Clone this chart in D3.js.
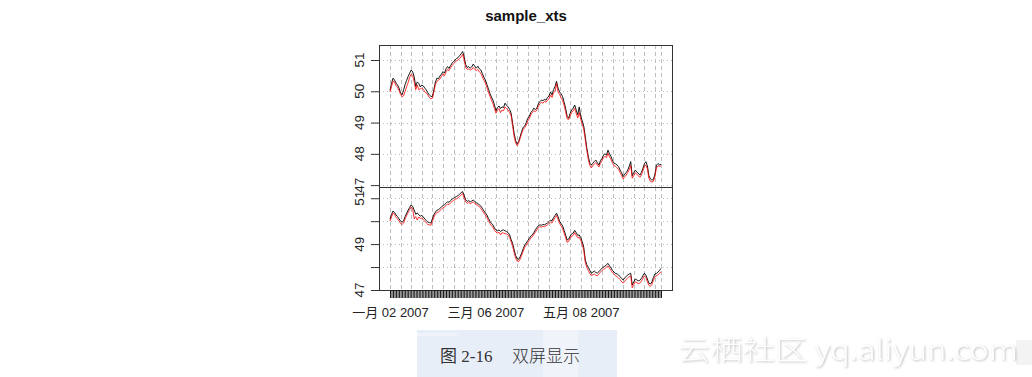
<!DOCTYPE html>
<html>
<head>
<meta charset="utf-8">
<script src="https://cdn.jsdelivr.net/npm/d3@7"></script>
<style>
body { margin: 0; background: #fff; }
svg { display: block; }
text { font-family: "Liberation Sans", Arial, "Noto Sans CJK SC", sans-serif; }
</style>
</head>
<body>
<svg id="chart" width="1032" height="377"></svg>
<script>
// sample_xts, 2007-01-02 .. 2007-06-30, one value per day
var startDay = new Date(2007, 0, 2);

var topBlack = [50.03, 50.25, 50.42, 50.36, 50.26, 50.20, 50.10, 49.95, 49.89, 50.05,
	50.22, 50.35, 50.48, 50.58, 50.68, 50.62, 50.45, 50.15, 50.30, 50.25,
	50.14, 50.20, 50.17, 50.10, 50.04, 49.95, 49.88, 49.84, 49.83, 50.05,
	50.30, 50.42, 50.40, 50.49, 50.55, 50.63, 50.58, 50.72, 50.79, 50.73,
	50.82, 50.90, 50.95, 51.00, 51.05, 51.08, 51.14, 51.20, 51.27, 51.10,
	50.85, 50.76, 50.79, 50.74, 50.78, 50.87, 50.80, 50.74, 50.80, 50.72,
	50.68, 50.57, 50.45, 50.36, 50.22, 50.08, 49.93, 49.82, 49.72, 49.56,
	49.38, 49.48, 49.53, 49.45, 49.50, 49.48, 49.62, 49.55, 49.50, 49.42,
	49.30, 48.98, 48.65, 48.42, 48.32, 48.40, 48.55, 48.72, 48.85, 48.89,
	49.00, 49.14, 49.20, 49.32, 49.38, 49.46, 49.42, 49.46, 49.60, 49.67,
	49.72, 49.70, 49.74, 49.72, 49.80, 49.85, 49.98, 49.88, 50.05, 50.15,
	50.32, 50.10, 49.98, 49.92, 49.83, 49.65, 49.46, 49.20, 49.14, 49.30,
	49.40, 49.46, 49.56, 49.40, 49.25, 49.50, 49.20, 49.05, 48.88, 48.55,
	48.18, 47.91, 47.70, 47.64, 47.70, 47.76, 47.80, 47.72, 47.64, 47.78,
	47.85, 47.96, 48.00, 47.96, 48.12, 48.00, 47.91, 47.78, 47.70, 47.68,
	47.64, 47.59, 47.48, 47.40, 47.27, 47.35, 47.40, 47.48, 47.60, 47.75,
	47.30, 47.40, 47.48, 47.42, 47.38, 47.32, 47.40, 47.52, 47.68, 47.75,
	47.62, 47.30, 47.20, 47.16, 47.18, 47.35, 47.64, 47.69, 47.65, 47.67];

var topRed = [49.98, 50.15, 50.33, 50.30, 50.18, 50.12, 50.02, 49.90, 49.83, 49.86,
	50.00, 50.15, 50.28, 50.45, 50.55, 50.50, 50.30, 50.05, 50.20, 50.05,
	50.08, 50.10, 50.06, 49.98, 49.95, 49.88, 49.80, 49.76, 49.78, 49.98,
	50.22, 50.32, 50.35, 50.40, 50.48, 50.55, 50.50, 50.62, 50.70, 50.66,
	50.75, 50.82, 50.88, 50.93, 50.98, 51.00, 51.05, 51.10, 51.18, 51.00,
	50.76, 50.70, 50.72, 50.68, 50.70, 50.76, 50.70, 50.66, 50.70, 50.62,
	50.58, 50.46, 50.36, 50.26, 50.12, 49.98, 49.84, 49.72, 49.60, 49.45,
	49.30, 49.40, 49.45, 49.32, 49.40, 49.38, 49.50, 49.45, 49.40, 49.32,
	49.22, 48.90, 48.55, 48.35, 48.26, 48.35, 48.50, 48.66, 48.78, 48.84,
	48.92, 49.05, 49.12, 49.25, 49.32, 49.38, 49.35, 49.40, 49.52, 49.60,
	49.65, 49.62, 49.68, 49.65, 49.72, 49.75, 49.88, 49.80, 49.95, 50.00,
	50.25, 49.98, 49.90, 49.80, 49.72, 49.55, 49.35, 49.12, 49.10, 49.22,
	49.32, 49.38, 49.45, 49.30, 49.15, 49.32, 49.10, 48.95, 48.78, 48.45,
	48.10, 47.82, 47.62, 47.55, 47.62, 47.68, 47.72, 47.64, 47.58, 47.70,
	47.78, 47.88, 47.92, 47.88, 48.02, 47.90, 47.82, 47.70, 47.62, 47.60,
	47.55, 47.50, 47.40, 47.30, 47.20, 47.26, 47.32, 47.40, 47.50, 47.62,
	47.22, 47.30, 47.40, 47.35, 47.30, 47.25, 47.32, 47.45, 47.60, 47.65,
	47.52, 47.22, 47.12, 47.10, 47.12, 47.28, 47.55, 47.62, 47.60, 47.62];

var bottomBlack = [50.08, 50.30, 50.44, 50.38, 50.27, 50.20, 50.10, 50.00, 49.96, 50.02,
	50.20, 50.35, 50.48, 50.60, 50.71, 50.64, 50.48, 50.30, 50.36, 50.28,
	50.22, 50.25, 50.18, 50.10, 50.02, 49.96, 49.94, 49.92, 50.10, 50.28,
	50.40, 50.48, 50.50, 50.56, 50.62, 50.68, 50.72, 50.78, 50.85, 50.82,
	50.90, 50.96, 51.00, 51.04, 51.08, 51.12, 51.18, 51.24, 51.29, 51.12,
	50.93, 50.86, 50.90, 50.84, 50.88, 50.92, 50.86, 50.80, 50.78, 50.71,
	50.66, 50.56, 50.45, 50.36, 50.27, 50.12, 50.00, 49.90, 49.84, 49.70,
	49.62, 49.58, 49.62, 49.55, 49.60, 49.62, 49.58, 49.55, 49.50, 49.40,
	49.20, 49.04, 48.75, 48.50, 48.36, 48.34, 48.45, 48.62, 48.80, 48.96,
	49.05, 49.15, 49.25, 49.35, 49.40, 49.50, 49.62, 49.72, 49.80, 49.84,
	49.82, 49.86, 49.84, 49.88, 49.92, 49.98, 50.05, 50.02, 50.15, 50.25,
	50.35, 50.20, 50.00, 49.90, 49.80, 49.60, 49.40, 49.18, 49.22, 49.35,
	49.45, 49.48, 49.60, 49.50, 49.38, 49.40, 49.28, 49.10, 48.85, 48.31,
	48.10, 47.99, 47.85, 47.73, 47.78, 47.82, 47.76, 47.74, 47.80, 47.88,
	47.95, 48.00, 48.04, 48.10, 48.16, 48.05, 47.96, 47.85, 47.78, 47.72,
	47.70, 47.65, 47.58, 47.50, 47.44, 47.52, 47.60, 47.65, 47.70, 47.73,
	47.22, 47.35, 47.48, 47.44, 47.40, 47.42, 47.50, 47.62, 47.73, 47.65,
	47.48, 47.30, 47.26, 47.35, 47.55, 47.70, 47.72, 47.78, 47.85, 47.94];

var bottomRed = [50.00, 50.18, 50.36, 50.30, 50.16, 50.10, 50.00, 49.90, 49.86, 49.92,
	50.10, 50.25, 50.38, 50.50, 50.62, 50.52, 50.10, 50.20, 50.05, 50.18,
	50.12, 50.14, 50.06, 50.00, 49.92, 49.86, 49.84, 49.82, 49.98, 50.18,
	50.30, 50.38, 50.40, 50.46, 50.52, 50.58, 50.62, 50.68, 50.75, 50.72,
	50.80, 50.86, 50.90, 50.95, 50.98, 51.02, 51.08, 51.14, 51.20, 51.00,
	50.84, 50.78, 50.82, 50.76, 50.80, 50.84, 50.78, 50.72, 50.70, 50.62,
	50.56, 50.46, 50.36, 50.26, 50.16, 50.02, 49.90, 49.80, 49.74, 49.60,
	49.52, 49.48, 49.52, 49.40, 49.50, 49.48, 49.46, 49.44, 49.40, 49.30,
	49.10, 48.92, 48.62, 48.38, 48.26, 48.24, 48.35, 48.52, 48.70, 48.86,
	48.96, 49.06, 49.16, 49.26, 49.32, 49.42, 49.52, 49.62, 49.72, 49.76,
	49.74, 49.78, 49.76, 49.80, 49.84, 49.90, 49.96, 49.92, 50.05, 50.15,
	50.25, 50.08, 49.90, 49.80, 49.68, 49.48, 49.28, 49.08, 49.12, 49.25,
	49.35, 49.38, 49.50, 49.38, 49.28, 49.30, 49.16, 48.98, 48.72, 48.20,
	47.98, 47.85, 47.72, 47.62, 47.66, 47.70, 47.64, 47.62, 47.70, 47.78,
	47.85, 47.90, 47.94, 48.00, 48.05, 47.94, 47.85, 47.75, 47.68, 47.62,
	47.58, 47.52, 47.45, 47.36, 47.30, 47.38, 47.46, 47.52, 47.58, 47.62,
	47.10, 47.24, 47.36, 47.32, 47.28, 47.30, 47.38, 47.50, 47.62, 47.54,
	47.36, 47.20, 47.16, 47.24, 47.42, 47.58, 47.62, 47.66, 47.72, 47.80];

var topTicks = [47, 48, 49, 50, 51];
var bottomTicks = [47, 48, 49, 50, 51];
var bottomTickLabels = [47, 49, 51];
var xLabelIdx = [0, 63, 126];
var xLabels = ["一月 02 2007", "三月 06 2007", "五月 08 2007"];

var svg = d3.select("#chart");
svg.append("rect").attr("width", 1032).attr("height", 377).attr("fill", "#fff");

var dates = topBlack.map(function(d, i){ return d3.timeDay.offset(startDay, i); });

var left = 379, right = 672;
var xScale = d3.scaleTime()
		.domain([dates[0], dates[dates.length - 1]])
		.range([390, 661]);

var panels = [
	{top: 45, bottom: 187, domain: [46.94, 51.48], series: [topBlack, topRed], ticks: topTicks, labels: topTicks},
	{top: 187, bottom: 290, domain: [47.0, 51.49], series: [bottomBlack, bottomRed], ticks: bottomTicks, labels: bottomTickLabels}
];
var colors = ["#000000", "#ff0000"];

// weekly grid plus the last day
var gridDates = dates.filter(function(d, i){ return i % 7 == 0 || i == dates.length - 1; });

panels.forEach(function(p){
	var yScale = d3.scaleLinear().domain(p.domain).range([p.bottom, p.top]);
	var g = svg.append("g");

	g.selectAll(".vgrid").data(gridDates).enter().append("line")
		.attr("x1", function(d){ return Math.round(xScale(d)) + 0.5; })
		.attr("x2", function(d){ return Math.round(xScale(d)) + 0.5; })
		.attr("y1", p.top).attr("y2", p.bottom)
		.attr("stroke", "#bdbdbd").attr("stroke-dasharray", "4,3");

	g.selectAll(".hgrid").data(p.ticks).enter().append("line")
		.attr("x1", left).attr("x2", right)
		.attr("y1", function(d){ return Math.round(yScale(d)) + 0.5; })
		.attr("y2", function(d){ return Math.round(yScale(d)) + 0.5; })
		.attr("stroke", "#bdbdbd").attr("stroke-dasharray", "1,3");

	var line = d3.line()
		.x(function(d, i){ return xScale(dates[i]); })
		.y(function(d){ return yScale(d); });

	p.series.forEach(function(s, k){
		g.append("path")
			.attr("d", line(s))
			.attr("fill", "none")
			.attr("stroke", colors[k])
			.attr("stroke-width", 1)
			.attr("stroke-opacity", k == 0 ? 0.9 : 0.8);
	});

	var yAxis = g.append("g")
		.attr("transform", "translate(" + left + ",0)")
		.call(d3.axisLeft(yScale).tickValues(p.ticks).tickSize(8).tickFormat(""));
	yAxis.select(".domain").remove();
	yAxis.selectAll("line").attr("stroke", "#333");

	g.selectAll(".ylab").data(p.labels).enter().append("text")
		.attr("transform", function(d){ return "translate(364," + yScale(d) + ") rotate(-90)"; })
		.attr("text-anchor", "middle")
		.attr("font-size", "13.5px")
		.attr("fill", "#222")
		.text(function(d){ return d; });

	g.append("rect")
		.attr("x", left + 0.5).attr("y", p.top + 0.5)
		.attr("width", right - left).attr("height", p.bottom - p.top)
		.attr("fill", "none").attr("stroke", "#333");
});

// daily ticks under the lower panel
var xAxis = svg.append("g")
	.attr("transform", "translate(0,290)")
	.call(d3.axisBottom(xScale).tickValues(dates).tickSize(8).tickPadding(10)
		.tickFormat(function(d, i){
			var j = xLabelIdx.indexOf(i);
			return j >= 0 ? xLabels[j] : "";
		}));
xAxis.select(".domain").remove();
xAxis.selectAll("line").attr("stroke", "#1a1a1a").attr("stroke-width", 1);
xAxis.selectAll("text")
	.attr("font-size", "13px")
	.attr("fill", "#222")
	.style("font-family", "'Liberation Sans', 'Noto Sans CJK SC', sans-serif");

svg.append("text")
	.attr("x", 526).attr("y", 21)
	.attr("text-anchor", "middle")
	.attr("font-size", "15px")
	.attr("font-weight", "bold")
	.attr("fill", "#111")
	.text("sample_xts");

// caption block
var cap = svg.append("g");
cap.append("rect").attr("x", 417).attr("y", 330).attr("width", 200).attr("height", 47).attr("fill", "#e8eef8");
cap.append("rect").attr("x", 543).attr("y", 330).attr("width", 35).attr("height", 47).attr("fill", "#f0f3fa");
cap.append("rect").attr("x", 417).attr("y", 333).attr("width", 40).attr("height", 3).attr("fill", "#f0f3fa");
cap.append("text")
	.attr("x", 440).attr("y", 362)
	.attr("font-size", "17px")
	.attr("fill", "#333")
	.style("font-family", "'Liberation Serif', 'Noto Sans CJK SC', serif")
	.text("图 2-16");
cap.append("text")
	.attr("x", 512).attr("y", 362)
	.attr("font-size", "17px")
	.attr("fill", "#333")
	.style("font-family", "'Noto Sans CJK SC', serif")
	.style("font-weight", "300")
	.text("双屏显示");

svg.append("rect").attr("x", 1016).attr("y", 340).attr("width", 16).attr("height", 25).attr("fill", "#f3f3f3");

// watermark
svg.append("text")
	.attr("x", 678).attr("y", 360)
	.attr("font-size", "27px")
	.attr("textLength", 340)
	.attr("lengthAdjust", "spacingAndGlyphs")
	.attr("fill", "#fff")
	.style("font-family", "'Noto Sans CJK SC', sans-serif")
	.style("font-weight", "300")
	.style("filter", "drop-shadow(1px 1px 1px rgba(0,0,0,0.25))")
	.text("云栖社区 yq.aliyun.com");
</script>
</body>
</html>
